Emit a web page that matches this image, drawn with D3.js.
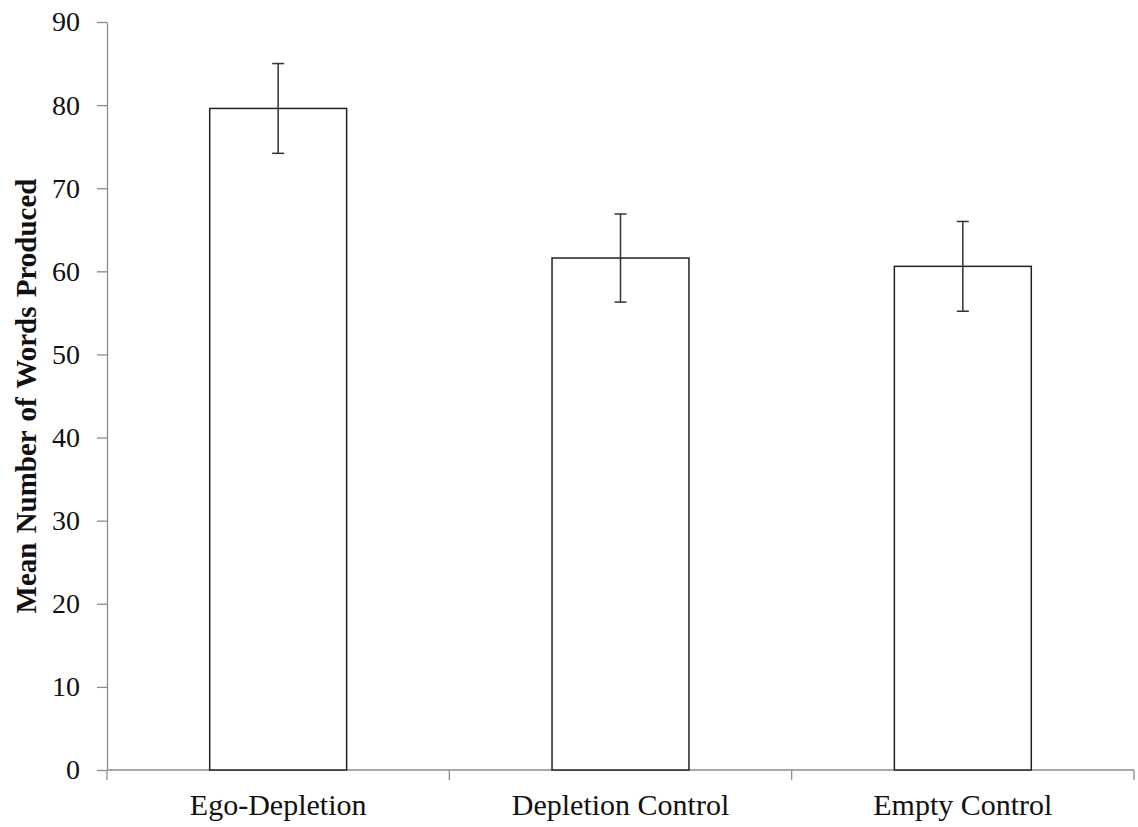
<!DOCTYPE html>
<html>
<head>
<meta charset="utf-8">
<script src="https://cdn.jsdelivr.net/npm/d3@7"></script>
<style>
  body { margin: 0; background: #fff; }
  text { font-family: "Liberation Serif", "Times New Roman", serif; fill: #111; }
</style>
</head>
<body>
<script>
// conditions and their means / error
const conditions = ["Ego-Depletion", "Depletion Control", "Empty Control"];
const means = [79.6, 61.6, 60.6];
const errors = [5.4, 5.3, 5.4];
const yTicks = [0, 10, 20, 30, 40, 50, 60, 70, 80, 90];

const width = 1138, height = 827;
const margin = {top: 22, right: 4, bottom: 57, left: 107};

const svg = d3.select("body").append("svg")
  .attr("width", width)
  .attr("height", height);

const x = d3.scaleBand()
  .domain(conditions)
  .range([margin.left, width - margin.right])
  .paddingInner(0.6)
  .paddingOuter(0.3);

const y = d3.scaleLinear()
  .domain([0, 90])
  .range([height - margin.bottom, margin.top]);

const axisColor = "#8c8c8c";

// y axis
const yAxis = svg.append("g")
  .attr("transform", `translate(${margin.left},0)`)
  .call(d3.axisLeft(y).tickValues(yTicks).tickSize(10).tickPadding(17).tickSizeOuter(0));
yAxis.selectAll("path, line").attr("stroke", axisColor).attr("stroke-width", 1.3);
yAxis.selectAll("text").style("font-size", "28px").attr("fill", "#111");

// x axis line + ticks at category boundaries
const baseY = y(0);
svg.append("line")
  .attr("x1", margin.left).attr("x2", width - margin.right)
  .attr("y1", baseY).attr("y2", baseY)
  .attr("stroke", axisColor).attr("stroke-width", 1.3);

const step = x.step();
const bounds = d3.range(conditions.length + 1).map(i => margin.left + i * step);
svg.selectAll(".xtick")
  .data(bounds)
  .enter().append("line")
  .attr("class", "xtick")
  .attr("x1", d => d).attr("x2", d => d)
  .attr("y1", baseY).attr("y2", baseY + 10)
  .attr("stroke", axisColor).attr("stroke-width", 1.3);

svg.selectAll(".xlabel")
  .data(conditions)
  .enter().append("text")
  .attr("class", "xlabel")
  .attr("x", d => x(d) + x.bandwidth() / 2)
  .attr("y", 815)
  .attr("text-anchor", "middle")
  .style("font-size", "30px")
  .text(d => d);

// bars
svg.selectAll(".bar")
  .data(conditions)
  .enter().append("rect")
  .attr("class", "bar")
  .attr("x", d => x(d))
  .attr("width", x.bandwidth())
  .attr("y", (d, i) => y(means[i]))
  .attr("height", (d, i) => baseY - y(means[i]))
  .attr("fill", "#fff")
  .attr("stroke", "#222")
  .attr("stroke-width", 1.5);

// error bars
const capW = 10;
const err = svg.selectAll(".err")
  .data(conditions)
  .enter().append("g")
  .attr("class", "err")
  .attr("stroke", "#333")
  .attr("stroke-width", 1.5);

err.append("line")
  .attr("x1", d => x(d) + x.bandwidth() / 2)
  .attr("x2", d => x(d) + x.bandwidth() / 2)
  .attr("y1", (d, i) => y(means[i] + errors[i]))
  .attr("y2", (d, i) => y(means[i] - errors[i]));
err.append("line")
  .attr("x1", d => x(d) + x.bandwidth() / 2 - capW / 2 - 1)
  .attr("x2", d => x(d) + x.bandwidth() / 2 + capW / 2 + 1)
  .attr("y1", (d, i) => y(means[i] + errors[i]))
  .attr("y2", (d, i) => y(means[i] + errors[i]));
err.append("line")
  .attr("x1", d => x(d) + x.bandwidth() / 2 - capW / 2 - 1)
  .attr("x2", d => x(d) + x.bandwidth() / 2 + capW / 2 + 1)
  .attr("y1", (d, i) => y(means[i] - errors[i]))
  .attr("y2", (d, i) => y(means[i] - errors[i]));

// y title
svg.append("text")
  .attr("transform", `translate(36,${(margin.top + baseY) / 2}) rotate(-90)`)
  .attr("text-anchor", "middle")
  .style("font-size", "29px")
  .style("font-weight", "bold")
  .style("word-spacing", "2px")
  .text("Mean Number of Words Produced");
</script>
</body>
</html>
